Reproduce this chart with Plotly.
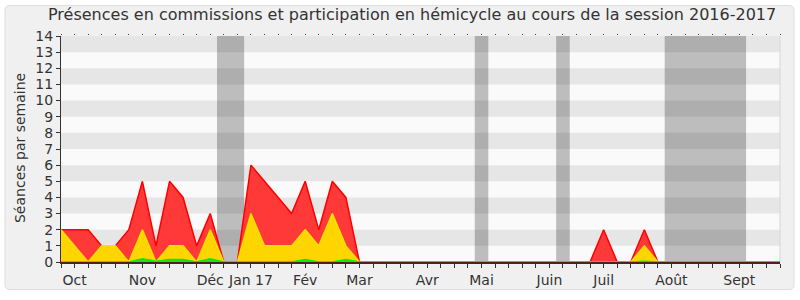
import plotly.graph_objects as go

# ---- data ----
weeks = list(range(54))
presences = [2, 2, 2, 1, 1, 2, 5, 1, 5, 4, 1, 3, 0, 0, 6, 5, 4, 3, 5, 2,
             5, 4, 0, 0, 0, 0, 0, 0, 0, 0, 0, 0, 0, 0, 0, 0, 0, 0, 0, 0,
             2, 0, 0, 2, 0, 0, 0, 0, 0, 0, 0, 0, 0, 0]
participation = [2, 1, 0, 1, 1, 0, 2, 0, 1, 1, 0, 2, 0, 0, 3, 1, 1, 1, 2, 1,
                 3, 1, 0, 0, 0, 0, 0, 0, 0, 0, 0, 0, 0, 0, 0, 0, 0, 0, 0, 0,
                 0, 0, 0, 1, 0, 0, 0, 0, 0, 0, 0, 0, 0, 0]
interventions = [0, 0, 0, 0, 0, 0, 0.2, 0.05, 0.15, 0.15, 0, 0.2, 0, 0, 0, 0, 0, 0, 0.15, 0,
                 0, 0.15, 0, 0, 0, 0, 0, 0, 0, 0, 0, 0, 0, 0, 0, 0, 0, 0, 0, 0,
                 0, 0, 0, 0.05, 0, 0, 0, 0, 0, 0, 0, 0, 0, 0]
month_weeks = [1, 6, 11, 14, 18, 22, 27, 31, 36, 40, 45, 50]
month_labels = ["Oct", "Nov", "Déc", "Jan 17", "Fév", "Mar", "Avr", "Mai", "Juin", "Juil", "Août", "Sept"]
vacations = [(12, 13), (31, 31), (37, 37), (45, 50)]
y_max = 14

title = "Présences en commissions et participation en hémicycle au cours de la session 2016-2017"
y_title = "Séances par semaine"

# ---- geometry helpers (pixel -> paper) ----
L, R, T, B = 61, 20, 36, 34
W, H = 800, 300
PW, PH = W - L - R, H - T - B


def px(x):
    return (x - L) / PW


def py(y):
    return (H - B - y) / PH


FONT = "DejaVu Sans"
TXT = "#333333"

fig = go.Figure()

fig.add_trace(go.Scatter(x=weeks, y=presences, mode="lines", fill="tozeroy",
                         line=dict(color="#ff0000", width=1.5), fillcolor="#ff3838",
                         hoverinfo="skip", showlegend=False))
fig.add_trace(go.Scatter(x=weeks, y=participation, mode="lines", fill="tozeroy",
                         line=dict(color="#f5e000", width=1.5), fillcolor="#ffd500",
                         hoverinfo="skip", showlegend=False))
fig.add_trace(go.Scatter(x=weeks, y=interventions, mode="lines", fill="tozeroy",
                         line=dict(color="#00ee00", width=1.5), fillcolor="#22dd22",
                         hoverinfo="skip", showlegend=False))
# invisible trace to anchor the top dotted-tick axis
fig.add_trace(go.Scatter(x=[0], y=[0], xaxis="x2", mode="markers",
                         marker=dict(opacity=0), hoverinfo="skip", showlegend=False))

shapes = []
# outer rounded frame
x0, x1, y0, y1, r = 5, 794, 5, 294, 5
pts = [
    ("M", (x0 + r, y0)), ("L", (x1 - r, y0)), ("Q", (x1, y0), (x1, y0 + r)),
    ("L", (x1, y1 - r)), ("Q", (x1, y1), (x1 - r, y1)), ("L", (x0 + r, y1)),
    ("Q", (x0, y1), (x0, y1 - r)), ("L", (x0, y0 + r)), ("Q", (x0, y0), (x0 + r, y0)),
]
path = ""
for seg in pts:
    cmd = seg[0]
    coords = " ".join(f"{px(a):.5f},{py(b):.5f}" for a, b in seg[1:])
    path += f"{cmd} {coords} "
path += "Z"
shapes.append(dict(type="path", xref="paper", yref="paper", path=path,
                   fillcolor="#f0f0f0", line=dict(color="#dedede", width=1), layer="below"))
# plot background + stripes
shapes.append(dict(type="rect", xref="paper", yref="paper", x0=0, x1=1, y0=0, y1=1,
                   fillcolor="#fafafa", line=dict(width=0), layer="below"))
for k in range(1, y_max, 2):
    shapes.append(dict(type="rect", xref="paper", yref="y", x0=0, x1=1, y0=k, y1=k + 1,
                       fillcolor="#e6e6e6", line=dict(width=0), layer="below"))
# vacation bands
for a, b in vacations:
    shapes.append(dict(type="rect", xref="x", yref="paper", x0=a - 0.5, x1=b + 0.5, y0=0, y1=1,
                       fillcolor="rgba(0,0,0,0.245)", line=dict(width=0), layer="below"))
# right border of plot area
shapes.append(dict(type="line", xref="paper", yref="paper", x0=1, x1=1, y0=0, y1=1,
                   line=dict(color="#d6d6d6", width=1), layer="below"))

ticktext = [month_labels[month_weeks.index(w)] if w in month_weeks else "" for w in weeks]

fig.update_layout(
    width=W, height=H,
    margin=dict(l=L, r=R, t=T, b=B),
    paper_bgcolor="white", plot_bgcolor="rgba(0,0,0,0)",
    shapes=shapes,
    xaxis=dict(range=[0, 53], tickmode="array", tickvals=weeks, ticktext=ticktext,
               ticks="outside", ticklen=4, tickwidth=1, tickcolor="#333",
               showline=True, linecolor="#4a2418", linewidth=1.5,
               showgrid=False, zeroline=False, layer="above traces",
               tickfont=dict(family=FONT, size=14, color=TXT)),
    xaxis2=dict(range=[0, 53], overlaying="x", side="top", anchor="y",
                tickmode="array", tickvals=weeks, ticks="outside", ticklen=1, tickwidth=1,
                tickcolor="#444", showticklabels=False, showline=False, showgrid=False,
                zeroline=False),
    yaxis=dict(range=[0, y_max], tickmode="linear", tick0=0, dtick=1,
               ticks="outside", ticklen=4, tickwidth=1, tickcolor="#333",
               showline=True, linecolor="#333", linewidth=1,
               showgrid=False, zeroline=False,
               tickfont=dict(family=FONT, size=14, color=TXT)),
    annotations=[
        dict(text=title, xref="paper", yref="paper", x=px(412), y=py(14),
             xanchor="center", yanchor="middle", showarrow=False,
             font=dict(family=FONT, size=16, color=TXT)),
        dict(text=y_title, xref="paper", yref="paper", x=px(20), y=py(150),
             xanchor="center", yanchor="middle", showarrow=False, textangle=-90,
             font=dict(family=FONT, size=14, color=TXT)),
    ],
)

fig.write_html("out.html")
